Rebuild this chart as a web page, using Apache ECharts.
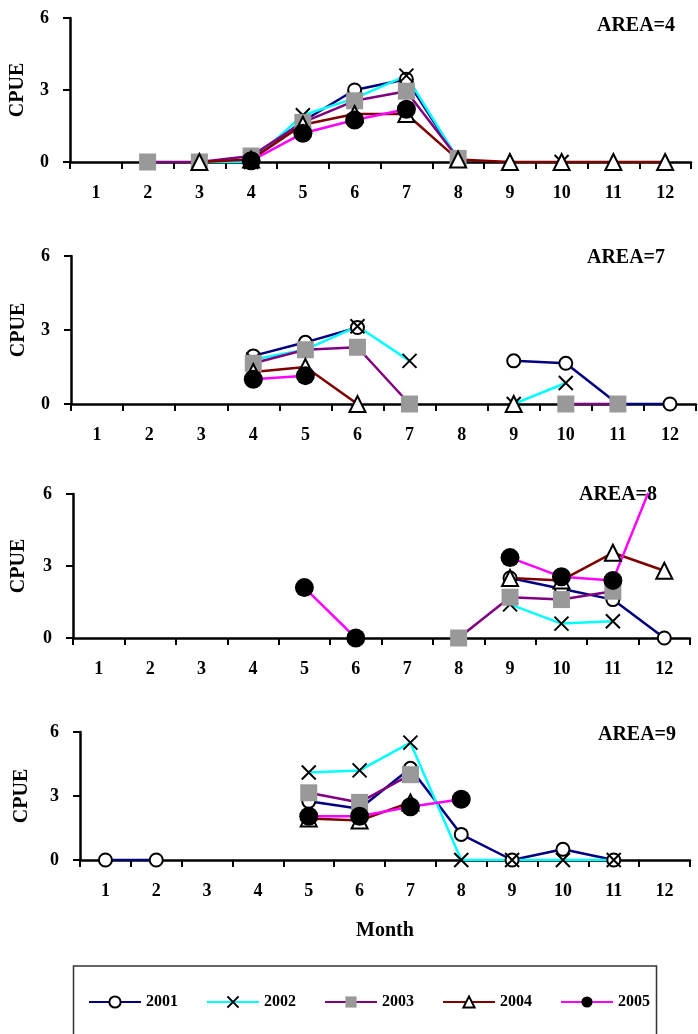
<!DOCTYPE html>
<html>
<head>
<meta charset="utf-8">
<script src="https://cdn.jsdelivr.net/npm/echarts@6/dist/echarts.min.js"></script>
<style>
html,body{margin:0;padding:0;background:#fff;}
#chart{width:698px;height:1034px;}
</style>
</head>
<body>
<div id="chart"></div>
<script>
// ---------- data ----------
const months = ['1','2','3','4','5','6','7','8','9','10','11','12'];
const years = ['2001','2002','2003','2004','2005'];
const areaNames = ['AREA=4','AREA=7','AREA=8','AREA=9'];
const yTicks = [0, 3, 6];

const area4_2001 = [null,null,null,0.1,1.7,3.0,3.45,0.1,null,null,null,null];
const area4_2002 = [null,null,0,0,1.95,2.65,3.6,0.1,null,0,null,null];
const area4_2003 = [null,0,0,0.25,1.65,2.55,2.95,0.15,null,null,null,null];
const area4_2004 = [null,null,0,0.1,1.55,2.0,2.0,0.1,0,0,0,0];
const area4_2005 = [null,null,null,0.05,1.2,1.75,2.2,null,null,null,null,null];

const area7_2001 = [null,null,null,1.95,2.5,3.1,null,null,1.75,1.65,0,0];
const area7_2002 = [null,null,null,1.8,2.2,3.15,1.75,null,0,0.85,null,null];
const area7_2003 = [null,null,null,1.65,2.2,2.3,0,null,null,0,0,null];
const area7_2004 = [null,null,null,1.3,1.5,0,null,null,0,null,null,null];
const area7_2005 = [null,null,null,1.0,1.15,null,null,null,null,null,null,null];

const area8_2001 = [null,null,null,null,null,null,null,null,2.5,2.05,1.6,0];
const area8_2002 = [null,null,null,null,null,null,null,null,1.4,0.6,0.7,null];
const area8_2003 = [null,null,null,null,null,null,null,0,1.7,1.6,1.95,null];
const area8_2004 = [null,null,null,null,null,null,null,null,2.5,2.4,3.55,2.8];
const area8_2005 = [null,null,null,null,2.1,0,null,null,3.35,2.55,2.4,7.7];

const area9_2001 = [0,0,null,null,2.75,2.4,4.3,1.2,0,0.5,0,null];
const area9_2002 = [null,null,null,null,4.1,4.2,5.5,0,0,0,0,null];
const area9_2003 = [null,null,null,null,3.15,2.7,4.0,null,null,null,null,null];
const area9_2004 = [null,null,null,null,1.95,1.85,2.7,null,null,null,null,null];
const area9_2005 = [null,null,null,null,2.05,2.05,2.5,2.85,null,null,null,null];

const areaData = [
  [area4_2001, area4_2002, area4_2003, area4_2004, area4_2005],
  [area7_2001, area7_2002, area7_2003, area7_2004, area7_2005],
  [area8_2001, area8_2002, area8_2003, area8_2004, area8_2005],
  [area9_2001, area9_2002, area9_2003, area9_2004, area9_2005]
];

// ---------- styles ----------
const FONT = "'Liberation Serif','Times New Roman',serif";
const lineColors = ['#000080','#00FFFF','#800080','#800000','#FF00FF'];
const symbols = ['emptyCircle','path://M0,0L20,20M20,0L0,20','rect','emptyTriangle','circle'];
const symbolSizes = [13,14,17,16,19];
const symColors = ['#000','#000','#999999','#000','#000'];

const grids = [
  {left:70, top:18,  width:621, height:144},
  {left:71, top:256, width:625, height:148},
  {left:73, top:494, width:617, height:144},
  {left:80, top:732, width:610, height:128}
];
const areaLabelPos = [
  {right:675, y:27},
  {right:665, y:259},
  {right:657, y:496},
  {right:676, y:736}
];

const xAxes = [], yAxes = [], series = [], graphics = [];
grids.forEach((g, i) => {
  xAxes.push({
    type:'category', gridIndex:i, data:months, boundaryGap:true,
    axisLine:{lineStyle:{color:'#000', width:2.5}},
    axisTick:{show:true, length:7, lineStyle:{color:'#000', width:2}},
    axisLabel:{color:'#000', fontFamily:FONT, fontWeight:'bold', fontSize:18, margin:22, interval:0},
    splitLine:{show:false},
    name: i === 3 ? 'Month' : '',
    nameLocation:'middle', nameGap:61,
    nameTextStyle:{color:'#000', fontFamily:FONT, fontWeight:'bold', fontSize:20}
  });
  yAxes.push({
    type:'value', gridIndex:i, min:yTicks[0], max:yTicks[2], interval:3,
    axisLine:{show:true, lineStyle:{color:'#000', width:2.5}},
    axisTick:{show:true, length:7, lineStyle:{color:'#000', width:2}},
    axisLabel:{color:'#000', fontFamily:FONT, fontWeight:'bold', fontSize:18, margin:21},
    splitLine:{show:false},
    name:'CPUE', nameLocation:'middle', nameRotate:90, nameGap: 42 + (g.left - 70) * 0.6,
    nameTextStyle:{color:'#000', fontFamily:FONT, fontWeight:'bold', fontSize:20}
  });
  areaData[i].forEach((arr, k) => {
    series.push({
      name: years[k], type:'line', xAxisIndex:i, yAxisIndex:i,
      data: arr, connectNulls:false, showAllSymbol:true,
      symbol: symbols[k], symbolSize: symbolSizes[k],
      lineStyle:{color: lineColors[k], width:2.5},
      itemStyle:{color: symColors[k], borderColor: symColors[k], borderWidth: (k===2||k===4)?0:2},
      emphasis:{disabled:true},
      clip:true, animation:false
    });
  });
  graphics.push({
    type:'text', right: 698 - areaLabelPos[i].right, top: areaLabelPos[i].y - 11,
    style:{text: areaNames[i], fill:'#000', font: "bold 20px " + FONT}
  });
});

graphics.push({
  type:'rect', shape:{x:73.5, y:966, width:583, height:90},
  style:{fill:'none', stroke:'#333', lineWidth:1.5}, z:-1
});

const chart = echarts.init(document.getElementById('chart'), null, {renderer:'canvas'});
chart.setOption({
  animation:false,
  backgroundColor:'#fff',
  grid: grids,
  xAxis: xAxes,
  yAxis: yAxes,
  series: series,
  graphic: graphics,
  legend:{
    data: years, left:88, top:994, orient:'horizontal', padding:0,
    itemWidth:52, itemHeight:14, itemGap:28,
    textStyle:{color:'#000', fontFamily:FONT, fontWeight:'bold', fontSize:16},
    selectedMode:false
  }
});
</script>
</body>
</html>
